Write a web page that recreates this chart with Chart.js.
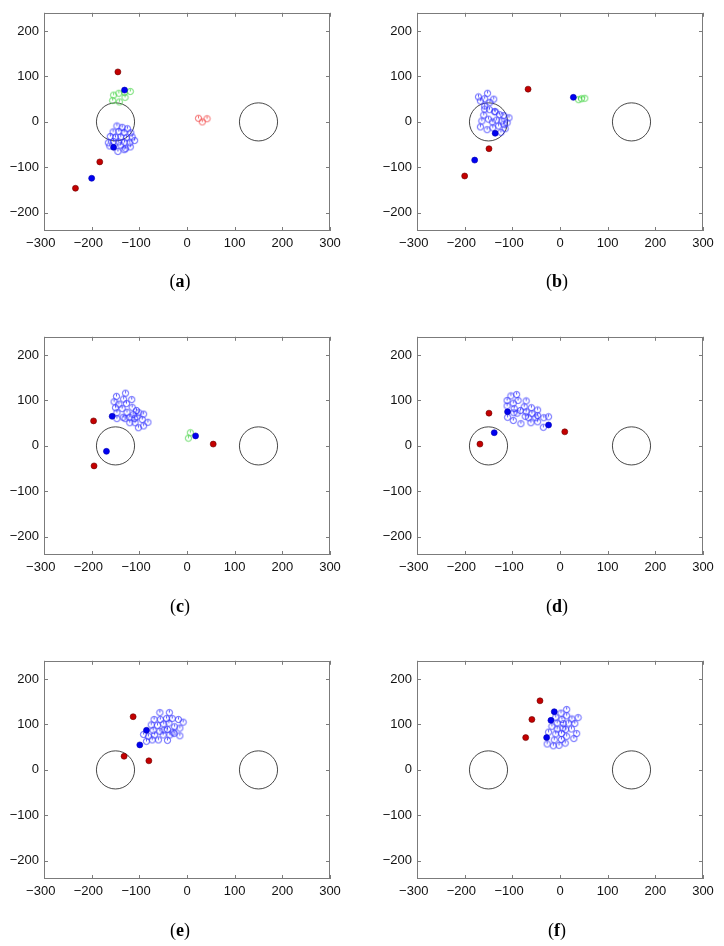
<!DOCTYPE html>
<html>
<head>
<meta charset="utf-8">
<script src="https://cdn.jsdelivr.net/npm/chart.js@4"></script>
<style>
  body { margin: 0; background: #fff; }
  #page { position: relative; width: 724px; height: 946px; overflow: hidden; background: #fff; }
  canvas { position: absolute; }
  .cap { position: absolute; width: 60px; margin-left: -30px; text-align: center;
         font-family: "Liberation Serif", "DejaVu Serif", serif; font-size: 18px; color: #000; line-height: 20px; }
  .cap b { font-weight: bold; }
</style>
</head>
<body>
<div id="page"></div>
<script>
// Données : [x, y]
const obstacleCenters = [[-150, 0], [150, 0]];
const obstacleRadius = 40;

// (a)
const aBlueRings = [[-147,-9],[-136,-12],[-125,-15],[-155,-22],[-143,-21],[-132,-23],[-118,-24],
  [-161,-32],[-150,-34],[-139,-33],[-127,-35],[-115,-33],[-165,-46],[-154,-43],[-144,-44],
  [-131,-45],[-120,-46],[-110,-41],[-162,-53],[-139,-51],[-129,-59],[-119,-55],[-145,-65],[-132,-61]];
const aGreenRings = [[-154,59],[-143,63],[-131,65],[-119,67],[-156,47],[-142,44],[-130,54]];
const aRedRings = [[24,8],[32,0],[42,7]];
const aRedDots = [[-145,110],[-183,-88],[-234,-146]];
const aBlueDots = [[-131,70],[-154,-56],[-200,-124]];

// (b)
const bBlueRings = [[-171,55],[-152,63],[-167,46],[-158,51],[-147,43],[-139,50],[-158,35],[-148,27],
  [-137,23],[-118,14],[-107,9],[-160,15],[-150,6],[-164,2],[-142,0],[-133,4],[-122,2],[-111,-2],
  [-167,-11],[-153,-17],[-141,-13],[-129,-9],[-115,-15],[-124,-23],[-136,22],[-158,28],[-127,16],[-118,-5]];
const bGreenRings = [[39,49],[45,51],[52,52]];
const bRedDots = [[-67,72],[-149,-59],[-200,-119]];
const bBlueDots = [[28,54],[-136,-25],[-179,-84]];

// (c)
const cBlueRings = [[-129,116],[-148,109],[-116,102],[-153,97],[-133,103],[-143,92],[-127,93],[-150,84],
  [-136,82],[-115,85],[-147,73],[-126,74],[-106,78],[-101,73],[-113,69],[-134,63],[-120,63],[-105,64],
  [-91,70],[-147,60],[-130,60],[-120,51],[-109,51],[-94,58],[-82,52],[-102,40],[-91,44],[-110,60]];
const cGreenRings = [[7,29],[3,17]];
const cRedDots = [[-196,55],[-195,-44],[55,4]];
const cBlueDots = [[-157,65],[-169,-12],[18,22]];

// (d)
const dBlueRings = [[-103,110],[-91,113],[-111,100],[-98,94],[-88,100],[-71,99],[-111,88],[-96,82],
  [-83,78],[-75,86],[-60,84],[-47,79],[-97,73],[-90,72],[-71,75],[-59,71],[-47,67],[-34,62],[-24,64],
  [-110,63],[-98,56],[-82,49],[-66,62],[-61,51],[-47,53],[-35,41],[-51,62],[-73,65]];
const dRedDots = [[-149,72],[-168,4],[10,31]];
const dBlueDots = [[-110,75],[-138,29],[-24,46]];

// (e)
const eBlueRings = [[-57,126],[-37,126],[-69,111],[-56,111],[-43,113],[-31,113],[-18,111],[-8,105],
  [-75,99],[-62,98],[-49,101],[-38,103],[-26,95],[-15,92],[-71,87],[-57,85],[-41,89],[-29,83],
  [-91,78],[-81,74],[-68,77],[-50,77],[-36,77],[-27,80],[-15,75],[-85,63],[-73,66],[-60,66],[-41,65],[-48,88]];
const eRedDots = [[-113,117],[-132,30],[-80,20]];
const eBlueDots = [[-85,87],[-99,55]];

// (f)
const fBlueRings = [[14,133],[2,125],[14,119],[-9,116],[4,111],[25,112],[38,115],[-6,103],[7,102],
  [18,103],[31,102],[-17,96],[-6,90],[6,92],[12,89],[24,90],[-24,83],[-9,79],[3,80],[14,74],[35,80],
  [-12,66],[3,67],[29,69],[-27,57],[-14,53],[-2,54],[11,59]];
const fRedDots = [[-42,152],[-59,111],[-72,71]];
const fBlueDots = [[-12,128],[-19,109],[-28,71]];

const panels = [
  { cap: 'a', blue: aBlueRings, green: aGreenRings, redRings: aRedRings, red: aRedDots, blueDots: aBlueDots },
  { cap: 'b', blue: bBlueRings, green: bGreenRings, redRings: [], red: bRedDots, blueDots: bBlueDots },
  { cap: 'c', blue: cBlueRings, green: cGreenRings, redRings: [], red: cRedDots, blueDots: cBlueDots },
  { cap: 'd', blue: dBlueRings, green: [], redRings: [], red: dRedDots, blueDots: dBlueDots },
  { cap: 'e', blue: eBlueRings, green: [], redRings: [], red: eRedDots, blueDots: eBlueDots },
  { cap: 'f', blue: fBlueRings, green: [], redRings: [], red: fRedDots, blueDots: fBlueDots },
];

// Petit marqueur : cercle ouvert avec un trait de cap
function ringMarker(color) {
  const c = document.createElement('canvas');
  c.width = 9; c.height = 9;
  const g = c.getContext('2d');
  g.strokeStyle = color;
  g.lineWidth = 0.8;
  g.beginPath();
  g.arc(4.5, 4.5, 3.1, 0, Math.PI * 2);
  g.stroke();
  g.beginPath();
  g.moveTo(4.5, 4.5);
  g.lineTo(4.5, 2.2);
  g.stroke();
  return c;
}
const blueRing = ringMarker('#2b2bff');
const greenRing = ringMarker('#3fd23f');
const redRing = ringMarker('#f03c3c');

const toXY = arr => arr.map(p => ({ x: p[0], y: p[1] }));
const fmt = v => (v < 0 ? '\u2212' + Math.abs(v) : String(v));

// Cadre et graduations intérieures sur les quatre côtés
const framePlugin = {
  id: 'frame',
  afterDatasetsDraw(chart) {
    const { ctx, chartArea: a, scales: { x, y } } = chart;
    const len = 4;
    ctx.save();
    ctx.strokeStyle = '#7b7b7b';
    ctx.lineWidth = 1;
    ctx.strokeRect(Math.round(a.left) + 0.5, Math.round(a.top) + 0.5,
      Math.round(a.right - a.left) - 1, Math.round(a.bottom - a.top) - 1);
    ctx.beginPath();
    x.ticks.forEach(t => {
      const px = Math.round(x.getPixelForValue(t.value)) + 0.5;
      ctx.moveTo(px, a.bottom); ctx.lineTo(px, a.bottom - len);
      ctx.moveTo(px, a.top); ctx.lineTo(px, a.top + len);
    });
    y.ticks.forEach(t => {
      const py = Math.round(y.getPixelForValue(t.value)) + 0.5;
      ctx.moveTo(a.left, py); ctx.lineTo(a.left + len, py);
      ctx.moveTo(a.right, py); ctx.lineTo(a.right - len, py);
    });
    ctx.stroke();
    ctx.restore();
  }
};

const page = document.getElementById('page');
const rowTops = [0, 324, 648];
const colLefts = [0, 362];
const axisLeft = [44, 55];
const padRight = [32, 21];
const capPos = [[180, 271], [557, 271], [180, 596], [557, 596], [180, 920], [557, 920]];

panels.forEach((p, i) => {
  const col = i % 2, row = Math.floor(i / 2);
  const canvas = document.createElement('canvas');
  canvas.width = 362; canvas.height = 290;
  canvas.style.left = colLefts[col] + 'px';
  canvas.style.top = rowTops[row] + 'px';
  page.appendChild(canvas);

  const cap = document.createElement('div');
  cap.className = 'cap';
  cap.innerHTML = '(<b>' + p.cap + '</b>)';
  cap.style.left = capPos[i][0] + 'px';
  cap.style.top = capPos[i][1] + 'px';
  page.appendChild(cap);

  const datasets = [
    { data: toXY(p.red), pointStyle: 'circle', pointRadius: 3, backgroundColor: '#c40000', borderColor: '#6a0000', borderWidth: 0.6 },
    { data: toXY(p.blueDots), pointStyle: 'circle', pointRadius: 3, backgroundColor: '#0000f0', borderColor: '#0000b0', borderWidth: 0.6 },
    { data: toXY(p.blue), pointStyle: blueRing },
    { data: toXY(p.green), pointStyle: greenRing },
    { data: toXY(p.redRings), pointStyle: redRing },
    {
      data: toXY(obstacleCenters), pointStyle: 'circle', backgroundColor: 'rgba(0,0,0,0)',
      borderColor: '#333', borderWidth: 0.9,
      pointRadius: c => Math.abs(c.chart.scales.x.getPixelForValue(obstacleRadius) - c.chart.scales.x.getPixelForValue(0))
    }
  ];

  new Chart(canvas.getContext('2d'), {
    type: 'scatter',
    data: { datasets: datasets },
    options: {
      responsive: false,
      animation: false,
      events: [],
      layout: { padding: { top: 9, right: padRight[col], left: 0, bottom: 0 } },
      plugins: { legend: { display: false }, tooltip: { enabled: false } },
      scales: {
        x: {
          type: 'linear', min: -300, max: 300,
          grid: { display: false, drawTicks: false },
          border: { display: false },
          ticks: {
            stepSize: 100, includeBounds: false, padding: 5, maxRotation: 0, autoSkip: false,
            color: '#111', font: { family: 'Liberation Sans, Arial, sans-serif', size: 13 },
            callback: v => (v < 0 ? fmt(v) + '\u2002' : fmt(v))
          },
          afterFit: s => { s.height = 290 - 231; }
        },
        y: {
          type: 'linear', min: -240, max: 240,
          grid: { display: false, drawTicks: false },
          border: { display: false },
          ticks: {
            stepSize: 100, includeBounds: false, padding: 5, autoSkip: false,
            color: '#111', font: { family: 'Liberation Sans, Arial, sans-serif', size: 13 },
            callback: v => fmt(v)
          },
          afterFit: s => { s.width = axisLeft[col]; }
        }
      }
    },
    plugins: [framePlugin]
  });
});
</script>
</body>
</html>
